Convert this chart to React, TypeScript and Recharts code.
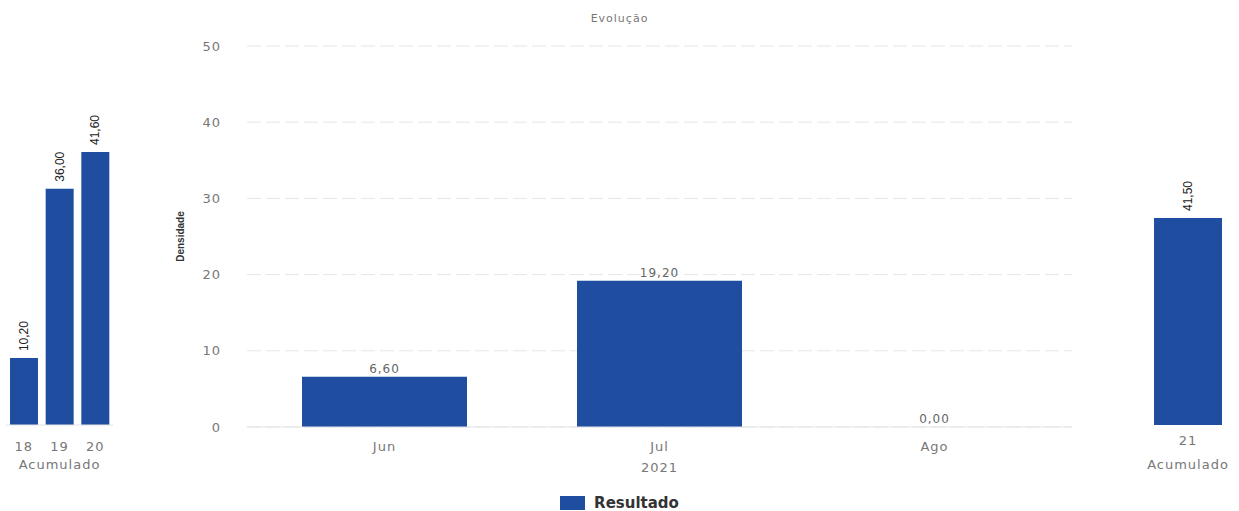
import React from 'react';
import { BarChart, Bar, XAxis, YAxis, CartesianGrid, LabelList, Legend, Cell } from 'recharts';

const leftCategories = ['18', '19', '20'];
const leftValues = [10.2, 36.0, 41.6];
const monthCategories = ['Jun', 'Jul', 'Ago'];
const monthValues = [6.6, 19.2, 0.0];
const rightCategories = ['21'];
const rightValues = [41.5];
const yTicks = [0, 10, 20, 30, 40, 50];
const seriesName = 'Resultado';
const groupLabel = 'Acumulado';
const yearLabel = '2021';
const titleText = 'Evolução';
const yAxisLabel = 'Densidade';

const leftData = leftCategories.map((c, i) => ({ cat: c, value: leftValues[i] }));
const monthData = monthCategories.map((c, i) => ({ cat: c, value: monthValues[i] }));
const rightData = rightCategories.map((c, i) => ({ cat: c, value: rightValues[i] }));

const BAR = '#1f4ea1';
const FONT = '"DejaVu Sans", Verdana, sans-serif';
const fmt = (v: any) => Number(v).toFixed(2).replace('.', ',');

const tickStyle = { fontSize: 13, fill: '#777', fontFamily: FONT, letterSpacing: 1 };

const RotLabel = (props: any) => {
  const x = Number(props.x);
  const y = Number(props.y);
  const w = Number(props.width);
  const cx = x + w / 2;
  const ty = y - 7;
  return (
    <text
      x={cx}
      y={ty}
      transform={`rotate(-90 ${cx} ${ty})`}
      textAnchor="start"
      dominantBaseline="central"
      fontSize={12}
      fill="#222"
      fontFamily='"Liberation Sans", Arial, sans-serif'
    >
      {fmt(props.value)}
    </text>
  );
};

const TopLabel = (props: any) => {
  const x = Number(props.x);
  const y = Number(props.y);
  const w = Number(props.width);
  const h = Number(props.height) || 0;
  const top = Number(props.value) === 0 ? y + h : Math.min(y, y + h);
  return (
    <text
      x={x + w / 2}
      y={top - 4}
      textAnchor="middle"
      fontSize={12}
      fill="#666"
      fontFamily={FONT}
      letterSpacing={1}
    >
      {fmt(props.value)}
    </text>
  );
};

const LegendContent = (props: any) => {
  const payload = props.payload || [];
  return (
    <div style={{ display: 'flex', justifyContent: 'center', alignItems: 'center' }}>
      {payload.map((p: any, i: number) => (
        <div key={i} style={{ display: 'flex', alignItems: 'center' }}>
          <span style={{ display: 'inline-block', width: 25, height: 14, background: BAR, marginRight: 9 }} />
          <span style={{ fontWeight: 'bold', fontSize: 15, color: '#333', fontFamily: FONT }}>{p.value}</span>
        </div>
      ))}
    </div>
  );
};

export default function App() {
  return (
    <div style={{ position: 'absolute', left: 0, top: 0, width: 1239, height: 511, background: '#fff', overflow: 'hidden' }}>
      <div style={{ position: 'absolute', left: 0, top: 0 }}>
        <BarChart width={122} height={511} data={leftData} margin={{ top: 152, right: 9, bottom: 56, left: 6 }} barSize={28}>
          <XAxis
            dataKey="cat"
            height={30}
            tickLine={false}
            axisLine={{ stroke: '#e3e3e3' }}
            tick={tickStyle}
            tickMargin={11}
            interval={0}
            label={{ value: groupLabel, position: 'bottom', offset: 5, style: tickStyle }}
          />
          <YAxis hide domain={[0, 'dataMax']} />
          <Bar dataKey="value" name={seriesName} fill={BAR} isAnimationActive={false}>
            <LabelList dataKey="value" content={RotLabel} />
          </Bar>
        </BarChart>
      </div>

      <div style={{ position: 'absolute', left: 0, top: 0 }}>
        <BarChart width={1239} height={511} data={monthData} margin={{ top: 46, right: 167, bottom: 54, left: 170 }} barCategoryGap="20%">
          <CartesianGrid vertical={false} stroke="#e6e6e6" strokeDasharray="14 5" />
          <XAxis
            dataKey="cat"
            height={30}
            tickLine={false}
            axisLine={{ stroke: '#e3e3e3' }}
            tick={tickStyle}
            tickMargin={9}
            interval={0}
            label={{ value: yearLabel, position: 'bottom', offset: 6, style: tickStyle }}
          />
          <YAxis
            width={77}
            domain={[0, 50]}
            ticks={yTicks}
            axisLine={false}
            tickLine={false}
            tick={tickStyle}
            tickMargin={20}
            label={{
              value: yAxisLabel,
              angle: -90,
              position: 'insideLeft',
              offset: 10,
              style: { textAnchor: 'middle', fontSize: 10, fontWeight: 'bold', fill: '#333', fontFamily: '"Liberation Sans", Arial, sans-serif' },
            }}
          />
          <Legend
            verticalAlign="middle"
            align="center"
            layout="horizontal"
            content={LegendContent}
            wrapperStyle={{ top: 494, left: 0, width: 1239 }}
          />
          <Bar dataKey="value" name={seriesName} fill={BAR} isAnimationActive={false} minPointSize={1}>
            {monthData.map((d, i) => (
              <Cell key={i} fill={BAR} fillOpacity={d.value === 0 ? 0 : 1} />
            ))}
            <LabelList dataKey="value" content={TopLabel} />
          </Bar>
          <text x={619.5} y={22} textAnchor="middle" fontSize={11} fill="#777" fontFamily={FONT} letterSpacing={1}>
            {titleText}
          </text>
        </BarChart>
      </div>

      <div style={{ position: 'absolute', left: 1130, top: 0 }}>
        <BarChart width={109} height={511} data={rightData} margin={{ top: 218, right: 13, bottom: 56, left: 20 }} barSize={68}>
          <XAxis
            dataKey="cat"
            height={30}
            tickLine={false}
            axisLine={false}
            tick={tickStyle}
            tickMargin={5}
            interval={0}
            label={{ value: groupLabel, position: 'bottom', offset: 5, style: tickStyle }}
          />
          <YAxis hide domain={[0, 'dataMax']} />
          <Bar dataKey="value" name={seriesName} fill={BAR} isAnimationActive={false}>
            <LabelList dataKey="value" content={RotLabel} />
          </Bar>
        </BarChart>
      </div>
    </div>
  );
}
